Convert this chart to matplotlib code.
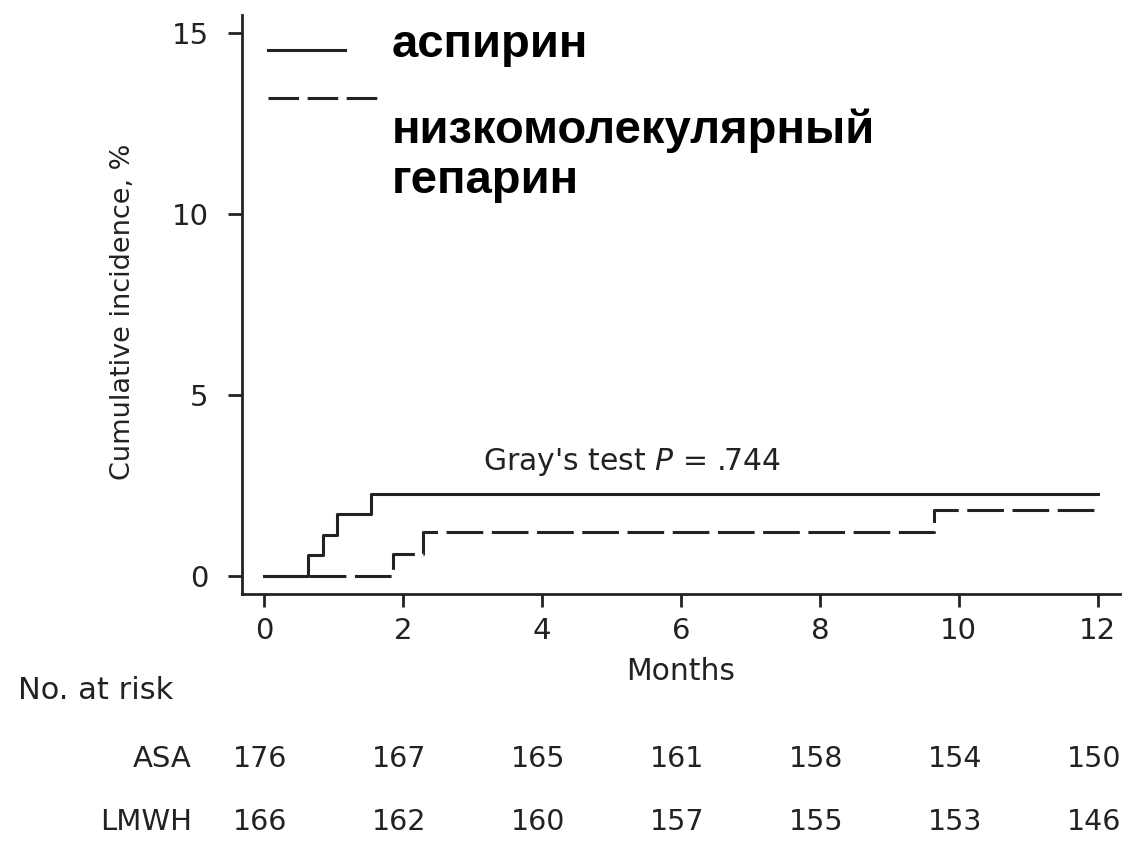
import numpy as np
import matplotlib.pyplot as plt
from matplotlib.transforms import blended_transform_factory

plt.rcParams['font.family'] = ['DejaVu Sans']

# step-function cumulative incidence (%), event times in months
asa_t = [0, 0.63, 0.85, 1.05, 1.54, 12]
asa_y = [0, 0.57, 1.14, 1.70, 2.27, 2.27]
lmwh_t = [0, 1.86, 2.29, 9.65, 12]
lmwh_y = [0, 0.60, 1.20, 1.81, 1.81]

risk_months = [0, 2, 4, 6, 8, 10, 12]
risk_asa = [176, 167, 165, 161, 158, 154, 150]
risk_lmwh = [166, 162, 160, 157, 155, 153, 146]

legend_labels = ['аспирин', 'низкомолекулярный', 'гепарин']
p_text = 'Gray\'s test $\\it{P}$ = .744'

ink = '#222222'
W, H = 1124, 844
fig = plt.figure(figsize=(W / 100, H / 100), dpi=100)
ax = fig.add_axes([242 / W, 1 - 594 / H, 878 / W, 579 / H])

ax.step(asa_t, asa_y, where='post', color=ink, lw=2.2)
ax.step(lmwh_t, lmwh_y, where='post', color=ink, lw=2.2, dashes=(12, 2.8))

ax.set_xlim(-0.317, 12.32)
ax.set_ylim(-0.5, 15.5)
ax.set_xticks(risk_months)
ax.set_yticks([0, 5, 10, 15])
for s in ['top', 'right']:
    ax.spines[s].set_visible(False)
for s in ['left', 'bottom']:
    ax.spines[s].set_linewidth(2)
    ax.spines[s].set_color(ink)
ax.tick_params(axis='both', colors=ink, width=2, labelsize=21)
ax.tick_params(axis='y', length=10, pad=14)
ax.tick_params(axis='x', length=9.5, pad=7)
ax.set_xlabel('Months', fontsize=21.5, color=ink, labelpad=9)
ax.set_ylabel('Cumulative incidence, %', fontsize=19.5, color=ink)
ax.yaxis.set_label_coords(-0.121, 0.487)

ax.text(5.29, 3.15, p_text, fontsize=21.5, color=ink, ha='center',
        va='center')

# legend drawn by hand inside the axes
ax.plot([0.06, 1.17], [14.53, 14.53], color=ink, lw=2.2, clip_on=False)
ax.plot([0.06, 1.62], [13.2, 13.2], color=ink, lw=2.2, dashes=(10, 2.8),
        clip_on=False)
for txt, base in zip(legend_labels, [57, 143, 193]):
    fig.text(392 / W, 1 - base / H, txt, fontsize=34, fontweight='bold',
             family='Liberation Sans', color='black', va='baseline')

# number at risk table
tr = blended_transform_factory(ax.transData, fig.transFigure)
fig.text(18 / W, 1 - 699 / H, 'No. at risk', fontsize=22, color=ink,
         va='baseline')
for label, vals, base in [('ASA', risk_asa, 767), ('LMWH', risk_lmwh, 830)]:
    yf = 1 - base / H
    fig.text(192 / W, yf, label, fontsize=21, color=ink,
             ha='right', va='baseline')
    for m, v in zip(risk_months, vals):
        fig.text(m - 0.05, yf, str(v), fontsize=20.5, color=ink,
                 ha='center', va='baseline', transform=tr)

fig.savefig('out.png', dpi=100)
